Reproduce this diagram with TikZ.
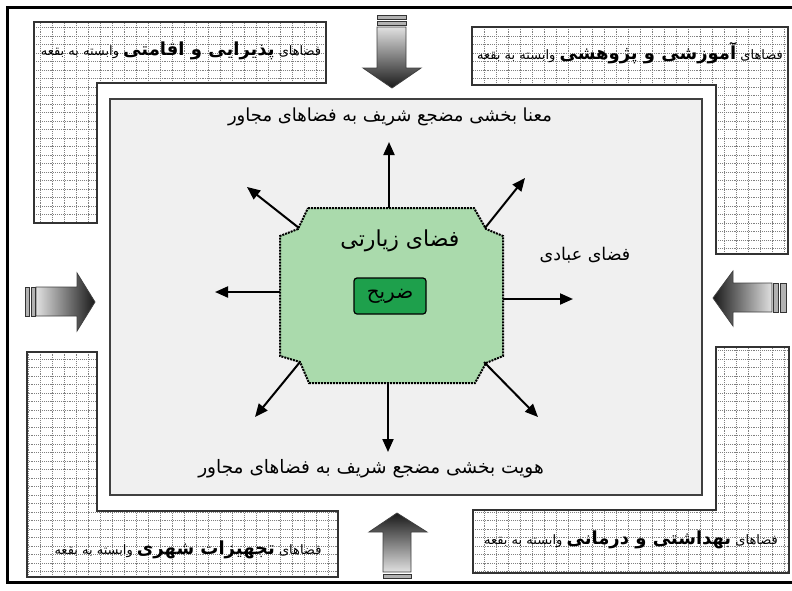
\documentclass[tikz,border=0pt]{standalone}
\usepackage{fontspec}
\usetikzlibrary{arrows.meta}
\newfontfamily\fafont[Script=Arabic]{DejaVu Sans}
\TeXXeTstate=1
\definecolor{zonegreen}{RGB}{170,218,172}
\definecolor{zarihgreen}{RGB}{30,160,76}
\definecolor{courtgray}{RGB}{240,240,240}

\begin{document}
\begin{tikzpicture}[x=1pt,y=-1pt,
		wing/.style={draw=black!80,line width=1.3pt,path picture={
				\foreach \x in {4,16,...,790} {\draw[gridline] (\x,2) -- (\x,588);}
				\foreach \y in {2,10.5,...,588} {\draw[gridline] (2,\y) -- (790,\y);}
			}},
		gridline/.style={color=black!50,densely dotted,line width=0.9pt},
		bigarrow/.style={draw=black!75,line width=0.8pt},
		tailbar/.style={draw=black!80,fill=black!30,line width=0.8pt},
		ray/.style={line width=2pt,-{Triangle[length=13pt,width=11pt]}},
		fatext/.style={font=\fafont\fontsize{#1}{#1}\selectfont,inner sep=0pt},
		wingtext/.style={font=\fafont\fontsize{13}{15}\selectfont,inner sep=0pt}]
	\useasboundingbox (0,0) rectangle (792,590);
	\draw[line width=3pt] (7.5,7) rectangle (796,582);
	
	\draw[wing] (34,22) -- (326,22) -- (326,83) -- (97,83) -- (97,223) -- (34,223) -- cycle;
	\draw[wing] (472,27) -- (788,27) -- (788,254) -- (716,254) -- (716,85) -- (472,85) -- cycle;
	\draw[wing] (27,352) -- (97,352) -- (97,511) -- (338,511) -- (338,577) -- (27,577) -- cycle;
	\draw[wing] (716,347) -- (789,347) -- (789,573) -- (473,573) -- (473,510) -- (716,510) -- cycle;
	
	\node[wingtext] (tl) at (181,51) {\beginR فضاهای {\fontsize{18}{20}\selectfont\bfseries پذیرایی و اقامتی} وابسته به بقعه\endR};
	\node[wingtext] (tr) at (630,53) {\beginR فضاهای {\fontsize{18}{20}\selectfont\bfseries آموزشی و پژوهشی} وابسته به بقعه\endR};
	\node[wingtext] (bl) at (188,550) {\beginR فضاهای {\fontsize{18}{20}\selectfont\bfseries تجهیزات شهری} وابسته به بقعه\endR};
	\node[wingtext] (br) at (631,540) {\beginR فضاهای {\fontsize{18}{20}\selectfont\bfseries بهداشتی و درمانی} وابسته به بقعه\endR};
	
	\draw[draw=black!75,fill=courtgray,line width=1.3pt] (110,99) rectangle (702,495);
	
	\shade[bigarrow,top color=black!12,bottom color=black!90] (377,27) -- (406,27) -- (406,68) -- (421,68) -- (392,88) -- (363,68) -- (377,68) -- cycle;
	\draw[tailbar] (377,15) rectangle (406,19.5);
	\draw[tailbar] (377,21) rectangle (406,25.5);
	\shade[bigarrow,top color=black!90,bottom color=black!12] (383,572) -- (383,532) -- (369,532) -- (397,513) -- (427,532) -- (411,532) -- (411,572) -- cycle;
	\draw[tailbar] (383,574) rectangle (411,578);
	\shade[bigarrow,left color=black!12,right color=black!90] (36,287) -- (77,287) -- (77,273) -- (95,302) -- (77,331) -- (77,316) -- (36,316) -- cycle;
	\draw[tailbar] (25,287) rectangle (29.5,316);
	\draw[tailbar] (31,287) rectangle (35,316);
	\shade[bigarrow,left color=black!90,right color=black!12] (772,283) -- (733,283) -- (733,271) -- (713,298) -- (733,326) -- (733,312) -- (772,312) -- cycle;
	\draw[tailbar] (773,283) rectangle (778.5,312);
	\draw[tailbar] (780,283) rectangle (786,312);
	
	\draw[fill=zonegreen,densely dotted,line width=2pt] (308,208) -- (474,208) -- (486,229) -- (503,236) -- (503,356) -- (486,363) -- (475,383) -- (309,383) -- (300,362) -- (280,356) -- (280,236) -- (298,229) -- cycle;
	\node[draw,fill=zarihgreen,rounded corners=3pt,line width=1.2pt,minimum width=72pt,minimum height=36pt,inner sep=0pt,fatext=20] (zarih) at (390,296) {\beginR ضریح\endR};
	\node[fatext=22] (ziarat) at (400,241) {\beginR فضای زیارتی\endR};
	\node[fatext=17.5] (ebadat) at (585,255) {\beginR فضای عبادی\endR};
	\node[fatext=18] (mana) at (390,117) {\beginR معنا بخشی مضجع شریف به فضاهای مجاور\endR};
	\node[fatext=18.5] (hoviat) at (371,469) {\beginR هویت بخشی مضجع شریف به فضاهای مجاور\endR};
	
	\foreach \n/\ax/\ay/\bx/\by in {N/389/208/389/142,S/388/383/388/452,W/280/292/215/292,E/503/299/573/299,NW/299/228/247/187,NE/485/228/525/178,SW/300/362/255/417,SE/484/362/538/417} {
		\coordinate (o\n) at (\ax,\ay);
		\coordinate (e\n) at (\bx,\by);
		\draw[ray] (o\n) -- (e\n);
	}
\end{tikzpicture}
\end{document}
